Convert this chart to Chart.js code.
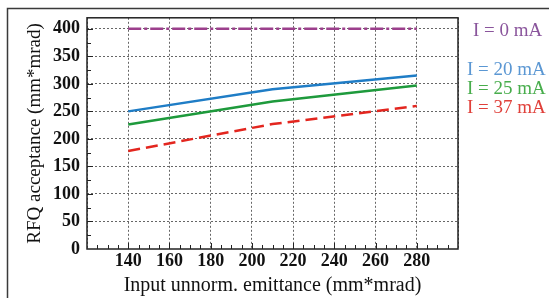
<!DOCTYPE html>
<html>
<head>
<meta charset="utf-8">
<script src="https://cdn.jsdelivr.net/npm/chart.js@4/dist/chart.umd.min.js"></script>
<style>
  html, body { margin: 0; padding: 0; background: #fff; }
  #wrap { width: 549px; height: 298px; position: relative; }
</style>
</head>
<body>
<div id="wrap"><canvas id="c"></canvas></div>
<script>
// emittance sample points (mm*mrad)
const xFlat = [140, 280];
const xCurve = [140, 210, 280];

// RFQ acceptance per beam current
const acc0mA = [400, 400];
const acc20mA = [250, 290, 315];
const acc25mA = [226, 268, 297];
const acc37mA = [178, 227, 260];

const seriesLabels = ['I = 0 mA', 'I = 20 mA', 'I = 25 mA', 'I = 37 mA'];
const lineColors = ['#9c3f8c', '#1f7dc6', '#1e9a3c', '#e3261f'];
const textColors = ['#8a559c', '#5b97d3', '#48ad4c', '#e0403a'];

const xMin = 120, xMax = 300, xStep = 20;
const yMin = 0, yMax = 420, yStep = 50;
const yTickValues = [0, 50, 100, 150, 200, 250, 300, 350, 400];

const pts = (xs, ys) => xs.map((x, i) => ({ x, y: ys[i] }));

const serif = '"Liberation Serif", "DejaVu Serif", serif';

// frame, minor ticks, plot border and the text legend
const decor = {
  id: 'decor',
  beforeDraw(chart) {
    const ctx = chart.ctx;
    ctx.save();
    ctx.strokeStyle = '#3a3a3a';
    ctx.lineWidth = 1.5;
    ctx.beginPath();
    ctx.moveTo(7.5, 298);
    ctx.lineTo(7.5, 8.5);
    ctx.lineTo(549, 8.5);
    ctx.stroke();
    ctx.restore();
  },
  afterDatasetsDraw(chart) {
    const { ctx, chartArea: a, scales: { x, y } } = chart;
    ctx.save();
    ctx.strokeStyle = '#222';
    ctx.lineWidth = 1.5;
    ctx.strokeRect(a.left, a.top, a.right - a.left, a.bottom - a.top);
    ctx.lineWidth = 1;
    ctx.beginPath();
    for (let v = xMin + 5; v < xMax; v += 5) {
      const px = Math.round(x.getPixelForValue(v)) + 0.5;
      const len = v % xStep === 0 ? 6 : 4;
      ctx.moveTo(px, a.bottom);
      ctx.lineTo(px, a.bottom - len);
    }
    for (let v = yMin + 25; v < yMax; v += 25) {
      const py = Math.round(y.getPixelForValue(v)) + 0.5;
      const len = v % yStep === 0 ? 6 : 4;
      ctx.moveTo(a.left, py);
      ctx.lineTo(a.left + len, py);
    }
    ctx.stroke();

    ctx.font = '19px ' + serif;
    ctx.textBaseline = 'middle';
    ctx.textAlign = 'left';
    const legendPos = [[473, 31], [467, 70], [467, 89], [467, 108]];
    seriesLabels.forEach((t, i) => {
      ctx.fillStyle = textColors[i];
      ctx.fillText(t, legendPos[i][0], legendPos[i][1]);
    });
    ctx.restore();
  }
};

new Chart(document.getElementById('c'), {
  type: 'line',
  data: {
    datasets: [
      { label: seriesLabels[0], data: pts(xFlat, acc0mA), borderColor: lineColors[0], borderWidth: 2.5, borderDash: [13, 3, 3, 3] },
      { label: seriesLabels[1], data: pts(xCurve, acc20mA), borderColor: lineColors[1], borderWidth: 2.5 },
      { label: seriesLabels[2], data: pts(xCurve, acc25mA), borderColor: lineColors[2], borderWidth: 2.5 },
      { label: seriesLabels[3], data: pts(xCurve, acc37mA), borderColor: lineColors[3], borderWidth: 2.5, borderDash: [12, 6] }
    ]
  },
  options: {
    responsive: true,
    maintainAspectRatio: false,
    animation: false,
    devicePixelRatio: 1,
    layout: { padding: { left: 0, right: 91, top: 17, bottom: 0 } },
    elements: { point: { radius: 0 }, line: { tension: 0, fill: false } },
    plugins: { legend: { display: false }, tooltip: { enabled: false } },
    scales: {
      x: {
        type: 'linear',
        min: xMin, max: xMax,
        afterFit: s => { s.height = 49; },
        ticks: {
          stepSize: xStep,
          padding: 2,
          color: '#111',
          font: { family: serif, size: 18, weight: 'bold' },
          callback: v => (v === xMin || v === xMax) ? '' : v
        },
        grid: { drawTicks: false, color: '#666', lineWidth: 1 },
        border: { display: false, dash: [2, 2] },
        title: {
          display: true,
          text: 'Input unnorm. emittance (mm*mrad)',
          color: '#111',
          font: { family: serif, size: 20 },
          padding: { top: 0, bottom: 0 }
        }
      },
      y: {
        min: yMin, max: yMax,
        afterFit: s => { s.width = 87; },
        afterBuildTicks: s => { s.ticks = yTickValues.map(v => ({ value: v })); },
        ticks: {
          padding: 7,
          color: '#111',
          font: { family: serif, size: 18, weight: 'bold' }
        },
        grid: {
          drawTicks: false,
          color: ctx => (ctx.tick && ctx.tick.value === 0) ? 'rgba(0,0,0,0)' : '#666',
          lineWidth: 1
        },
        border: { display: false, dash: [2, 2] },
        title: {
          display: true,
          text: 'RFQ acceptance (mm*mrad)',
          color: '#111',
          font: { family: serif, size: 19 },
          padding: { top: 24, bottom: 0 }
        }
      }
    }
  },
  plugins: [decor]
});
</script>
</body>
</html>
